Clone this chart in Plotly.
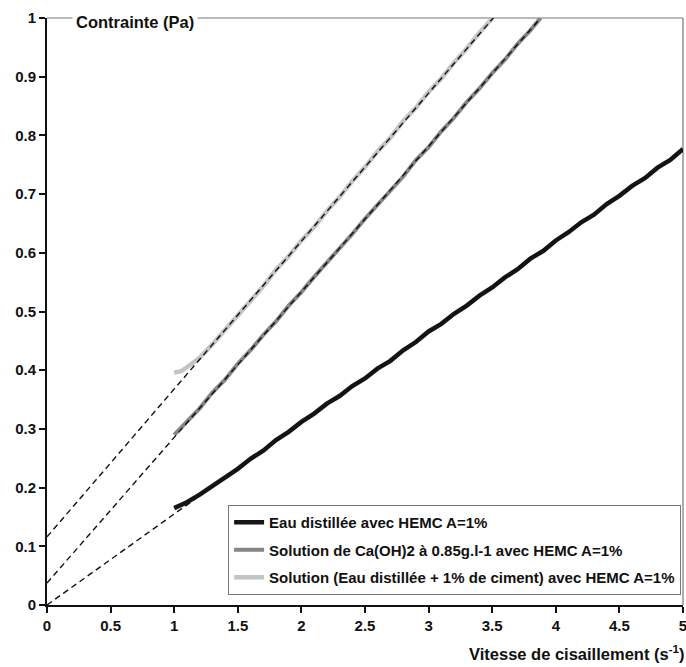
import plotly.graph_objects as go

# Shear rate (s^-1) sample points and measured stress (Pa) for each solution
x_eau = [1.0, 1.1, 1.2, 1.3, 1.4, 1.5, 1.6, 1.7, 1.8, 1.9, 2.0, 2.1, 2.2, 2.3, 2.4,
         2.5, 2.6, 2.7, 2.8, 2.9, 3.0, 3.1, 3.2, 3.3, 3.4, 3.5, 3.6, 3.7, 3.8, 3.9,
         4.0, 4.1, 4.2, 4.3, 4.4, 4.5, 4.6, 4.7, 4.8, 4.9, 5.0]
y_eau = [0.165, 0.175, 0.188, 0.202, 0.217, 0.232, 0.249, 0.263, 0.281, 0.295, 0.312,
         0.326, 0.343, 0.356, 0.373, 0.386, 0.403, 0.416, 0.434, 0.448, 0.466, 0.479,
         0.496, 0.510, 0.527, 0.541, 0.558, 0.572, 0.590, 0.603, 0.621, 0.635, 0.652,
         0.665, 0.683, 0.697, 0.714, 0.727, 0.745, 0.758, 0.777]

x_caoh = [1.0, 1.1, 1.2, 1.3, 1.4, 1.5, 1.6, 1.7, 1.8, 1.9, 2.0, 2.1, 2.2, 2.3, 2.4,
          2.5, 2.6, 2.7, 2.8, 2.9, 3.0, 3.1, 3.2, 3.3, 3.4, 3.5, 3.6, 3.7, 3.8, 3.88]
y_caoh = [0.290, 0.313, 0.335, 0.362, 0.384, 0.411, 0.434, 0.460, 0.483, 0.510, 0.533,
          0.559, 0.583, 0.608, 0.632, 0.658, 0.682, 0.708, 0.730, 0.758, 0.780, 0.807,
          0.830, 0.857, 0.880, 0.906, 0.929, 0.956, 0.979, 1.000]

x_ciment = [1.0, 1.05, 1.1, 1.2, 1.3, 1.4, 1.5, 1.6, 1.7, 1.8, 1.9, 2.0, 2.1, 2.2, 2.3,
            2.4, 2.5, 2.6, 2.7, 2.8, 2.9, 3.0, 3.1, 3.2, 3.3, 3.4, 3.5]
y_ciment = [0.396, 0.398, 0.405, 0.421, 0.444, 0.469, 0.493, 0.520, 0.543, 0.571, 0.594,
            0.621, 0.644, 0.671, 0.695, 0.722, 0.746, 0.773, 0.796, 0.824, 0.847, 0.874,
            0.897, 0.924, 0.948, 0.975, 0.999]

series_names = [
    "Eau distillée avec HEMC A=1%",
    "Solution de Ca(OH)2 à 0.85g.l-1 avec HEMC A=1%",
    "Solution (Eau distillée + 1% de ciment) avec HEMC A=1%",
]
series_colors = ["#151515", "#858585", "#c4c4c4"]
series_widths = [4.5, 4, 4.5]

# Bingham-type linear fits: (yield stress, plastic viscosity, x end)
fit_intercepts = [0.0, 0.0375, 0.116]
fit_slopes = [0.155, 0.248, 0.252]
fit_xmax = [5.0, 3.88, 3.51]

x_ticks = [0, 0.5, 1, 1.5, 2, 2.5, 3, 3.5, 4, 4.5, 5]
x_ticklabels = ["0", "0.5", "1", "1.5", "2", "2.5", "3", "3.5", "4", "4.5", "5"]
y_ticks = [0, 0.1, 0.2, 0.3, 0.4, 0.5, 0.6, 0.7, 0.8, 0.9, 1]
y_ticklabels = ["0", "0.1", "0.2", "0.3", "0.4", "0.5", "0.6", "0.7", "0.8", "0.9", "1"]

FONT = "Liberation Sans, Arial, sans-serif"

fig = go.Figure()

data = [(x_eau, y_eau), (x_caoh, y_caoh), (x_ciment, y_ciment)]
for i, ((xs, ys), name, color, w) in enumerate(
        zip(data, series_names, series_colors, series_widths)):
    fig.add_trace(go.Scatter(
        x=xs, y=ys, mode="lines", name=name, legendgroup=f"g{i}",
        line=dict(color=color, width=w),
    ))

for b, a, xm in zip(fit_intercepts, fit_slopes, fit_xmax):
    fig.add_trace(go.Scatter(
        x=[0, xm], y=[b, b + a * xm], mode="lines", showlegend=False,
        hoverinfo="skip",
        line=dict(color="#111111", width=1.4, dash="6px,4px"),
    ))

axis_common = dict(
    showgrid=False, zeroline=False, showline=True, linecolor="#111111",
    linewidth=2, ticks="outside", ticklen=6, tickwidth=1.5, tickcolor="#111111",
    ticklabeloverflow="allow", automargin=False,
    tickfont=dict(family=FONT, size=15, color="#111111", weight=700),
)

fig.update_xaxes(range=[0, 5], tickvals=x_ticks, ticktext=x_ticklabels, **axis_common)
fig.update_yaxes(range=[0, 1], tickvals=y_ticks, ticktext=y_ticklabels, **axis_common)

# Gray frame along the top and right edges of the plotting area
fig.add_shape(type="line", xref="paper", yref="paper", x0=0, x1=1, y0=1, y1=1,
              line=dict(color="#777777", width=1.2), layer="below")
fig.add_shape(type="line", xref="paper", yref="paper", x0=1, x1=1, y0=0, y1=1,
              line=dict(color="#777777", width=1.2), layer="below")

fig.add_annotation(
    text="Contrainte (Pa)", xref="paper", yref="paper", x=0.04, y=0.993,
    xanchor="left", yanchor="middle", showarrow=False, bgcolor="white",
    borderpad=3,
    font=dict(family=FONT, size=16.5, color="#111111", weight=700),
)
fig.add_annotation(
    text="Vitesse de cisaillement (s<sup>-1</sup>)", xref="paper", yref="paper",
    x=1.005, y=-0.082, xanchor="right", yanchor="middle", showarrow=False,
    font=dict(family=FONT, size=16.5, color="#111111", weight=700),
)

fig.update_layout(
    width=686, height=667,
    margin=dict(l=47, r=3, t=18, b=62, autoexpand=False),
    paper_bgcolor="white", plot_bgcolor="white",
    showlegend=True,
    legend=dict(
        x=0.997, y=0.017, xanchor="right", yanchor="bottom",
        bgcolor="white", bordercolor="#777777", borderwidth=1,
        font=dict(family=FONT, size=15, color="#111111", weight=700),
        tracegroupgap=5, itemwidth=30,
    ),
)

fig.write_html("out.html")
